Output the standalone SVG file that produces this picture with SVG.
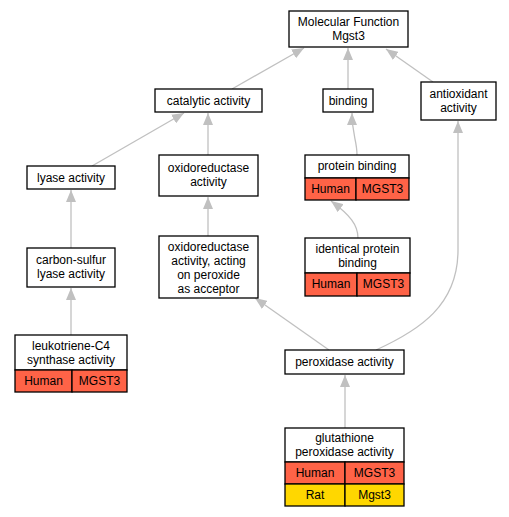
<svg xmlns="http://www.w3.org/2000/svg" width="509" height="517" viewBox="0 0 509 517">
<style>
text{font-family:"Liberation Sans",Arial,sans-serif;font-size:12px;fill:#000;text-anchor:middle}
.b{fill:#fff;stroke:#000;stroke-width:1.3}
.h{fill:#ff6347;stroke:#000;stroke-width:1.3}
.r{fill:#ffd700;stroke:#000;stroke-width:1.3}
.e{fill:none;stroke:#c0c0c0;stroke-width:1.3}
</style>
<defs>
<marker id="a" viewBox="0 0 12 10" refX="12" refY="5" markerWidth="12" markerHeight="10" markerUnits="userSpaceOnUse" orient="auto">
<path d="M0,0 L12,5 L0,10 Z" fill="#c0c0c0"/>
</marker>
</defs>
<rect width="509" height="517" fill="#fff"/>
<g id="edges">
<path class="e" marker-end="url(#a)" d="M232,89 L304,48"/>
<path class="e" marker-end="url(#a)" d="M348,89 L348,48"/>
<path class="e" marker-end="url(#a)" d="M433,82 L386,49"/>
<path class="e" marker-end="url(#a)" d="M92,166 L184,113"/>
<path class="e" marker-end="url(#a)" d="M208,155 L208,113"/>
<path class="e" marker-end="url(#a)" d="M71,248 L71,190"/>
<path class="e" marker-end="url(#a)" d="M71,335 L71,288"/>
<path class="e" marker-end="url(#a)" d="M208,236 L208,197"/>
<path class="e" marker-end="url(#a)" d="M357,155 C357,140 352,135 352,113"/>
<path class="e" marker-end="url(#a)" d="M358,238 C358,225 350,215 331,201"/>
<path class="e" marker-end="url(#a)" d="M329,350 L255,298"/>
<path class="e" marker-end="url(#a)" d="M376,350 C420,330 458,305 458,250 L458,121"/>
<path class="e" marker-end="url(#a)" d="M345,428 L345,375"/>
</g>
<g id="mf">
<rect class="b" x="289" y="11" width="119" height="36"/>
<text x="348.5" y="26">Molecular Function</text>
<text x="348.5" y="40">Mgst3</text>
</g>
<g id="catalytic">
<rect class="b" x="155" y="89" width="107" height="23"/>
<text x="208.5" y="105">catalytic activity</text>
</g>
<g id="binding">
<rect class="b" x="323" y="89" width="50" height="23"/>
<text x="348" y="105">binding</text>
</g>
<g id="antioxidant">
<rect class="b" x="421" y="82" width="75" height="38"/>
<text x="458.5" y="98">antioxidant</text>
<text x="458.5" y="112">activity</text>
</g>
<g id="lyase">
<rect class="b" x="27" y="166" width="88" height="23"/>
<text x="71" y="182">lyase activity</text>
</g>
<g id="oxidoreductase">
<rect class="b" x="159" y="155" width="99" height="41"/>
<text x="208.5" y="172">oxidoreductase</text>
<text x="208.5" y="186">activity</text>
</g>
<g id="proteinbinding">
<rect class="b" x="305" y="155" width="104" height="23"/>
<text x="357" y="170">protein binding</text>
<rect class="h" x="305" y="178" width="51" height="22"/>
<rect class="h" x="356" y="178" width="53" height="22"/>
<text x="330.5" y="193">Human</text>
<text x="382.5" y="193">MGST3</text>
</g>
<g id="carbonsulfur">
<rect class="b" x="27" y="248" width="88" height="39"/>
<text x="71" y="264">carbon-sulfur</text>
<text x="71" y="278">lyase activity</text>
</g>
<g id="oxperoxide">
<rect class="b" x="159" y="236" width="99" height="62"/>
<text x="208.5" y="251">oxidoreductase</text>
<text x="208.5" y="265">activity, acting</text>
<text x="208.5" y="279">on peroxide</text>
<text x="208.5" y="293">as acceptor</text>
</g>
<g id="identical">
<rect class="b" x="305" y="238" width="105" height="35"/>
<text x="357.5" y="253">identical protein</text>
<text x="357.5" y="267">binding</text>
<rect class="h" x="305" y="273" width="52" height="23"/>
<rect class="h" x="357" y="273" width="53" height="23"/>
<text x="331" y="288">Human</text>
<text x="383.5" y="288">MGST3</text>
</g>
<g id="leukotriene">
<rect class="b" x="15" y="335" width="112" height="35"/>
<text x="71" y="350">leukotriene-C4</text>
<text x="71" y="364">synthase activity</text>
<rect class="h" x="15" y="370" width="57" height="22"/>
<rect class="h" x="72" y="370" width="55" height="22"/>
<text x="43.5" y="385">Human</text>
<text x="99.5" y="385">MGST3</text>
</g>
<g id="peroxidase">
<rect class="b" x="285" y="350" width="119" height="24"/>
<text x="344.5" y="366">peroxidase activity</text>
</g>
<g id="glutathione">
<rect class="b" x="285" y="428" width="119" height="34"/>
<text x="344.5" y="442">glutathione</text>
<text x="344.5" y="456">peroxidase activity</text>
<rect class="h" x="285" y="462" width="60" height="22"/>
<rect class="h" x="345" y="462" width="59" height="22"/>
<text x="315" y="477">Human</text>
<text x="374.5" y="477">MGST3</text>
<rect class="r" x="285" y="484" width="60" height="22"/>
<rect class="r" x="345" y="484" width="59" height="22"/>
<text x="315" y="499">Rat</text>
<text x="374.5" y="499">Mgst3</text>
</g>
</svg>
